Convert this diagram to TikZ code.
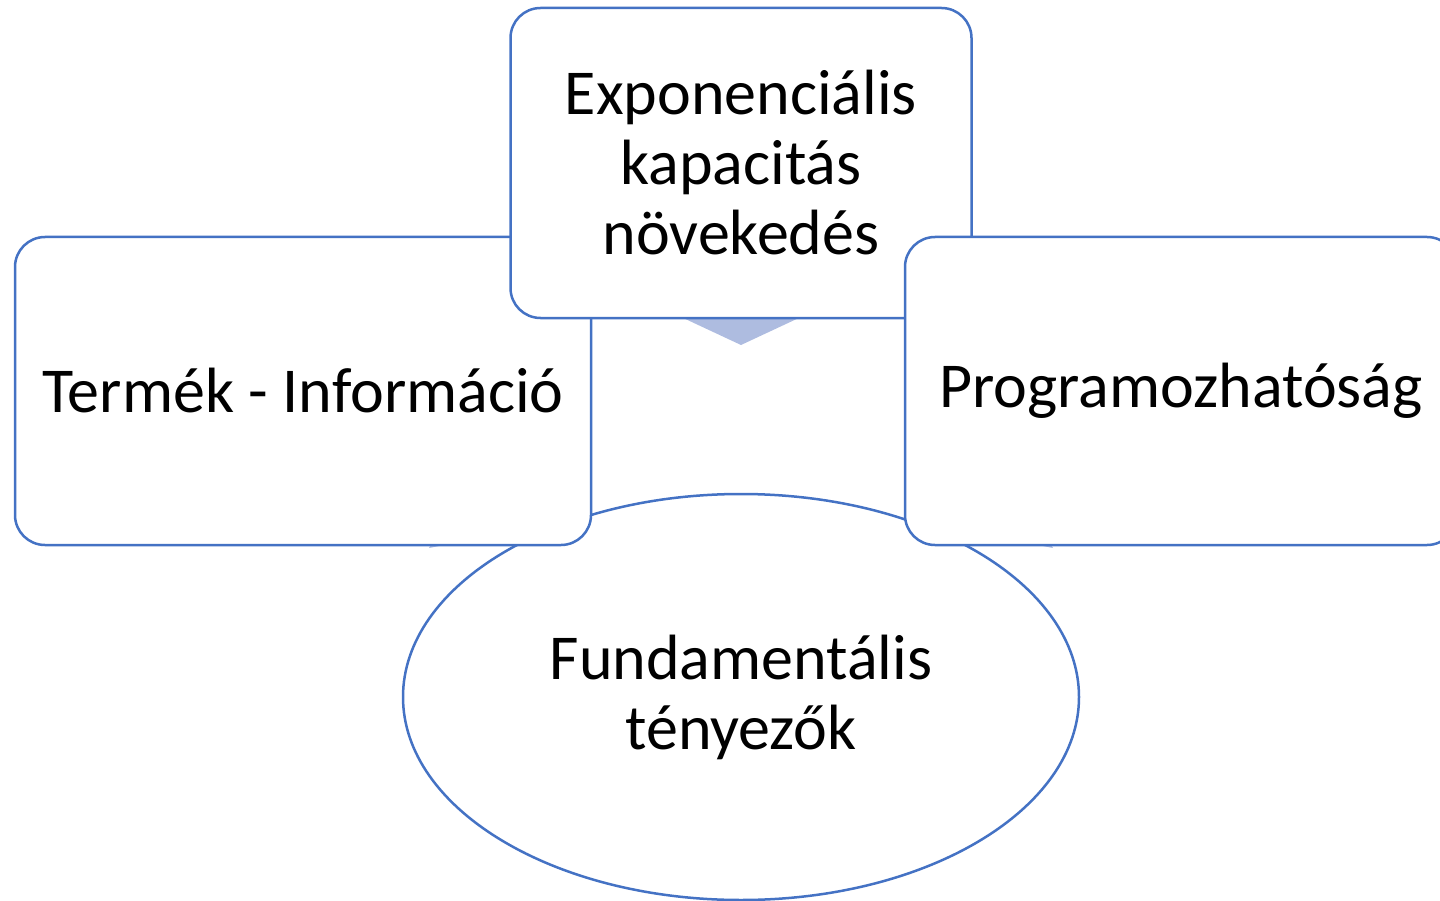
\documentclass[tikz,border=0pt]{standalone}
\usepackage{fontspec}
\setmainfont{Carlito}
\usetikzlibrary{shapes}
\definecolor{officeblue}{HTML}{4472C4}
\definecolor{arrowfill}{HTML}{AEBCE0}
\tikzset{
  factor/.style = {draw=officeblue, fill=white, line width=2.5pt, align=center, inner sep=0pt, font=\fontsize{64}{70}\selectfont},
  boxed/.style = {factor, rounded corners=30pt},
  tip/.style = {fill=arrowfill}
}

\begin{document}
\begin{tikzpicture}[x=1pt,y=-1pt]
  \useasboundingbox (0,0) rectangle (1440,901);
  \clip (0,0) rectangle (1440,901);
  % centre ellipse
  \node (fund) at (741,697) [factor, ellipse, minimum width=676pt, minimum height=406pt] {Fundamentális\\tényezők};
  % arrows towards the centre
  \fill[tip] (634,295) -- (741,345) -- (848,295) -- cycle;
  \fill[tip] (429,548) -- (470,470) -- (520,530) -- cycle;
  \fill[tip] (1053,548) -- (1012,470) -- (962,530) -- cycle;
  % outer boxes
  \node (prod) at (303,391) [boxed, minimum width=576pt, minimum height=308pt] {Termék - Információ};
  \node (expo) at (741,163) [boxed, minimum width=461pt, minimum height=310pt] {Exponenciális\\kapacitás\\növekedés};
  \node (prog) at (1181,391) [boxed, minimum width=552pt, minimum height=308pt] {Programozhatóság};
\end{tikzpicture}
\end{document}
